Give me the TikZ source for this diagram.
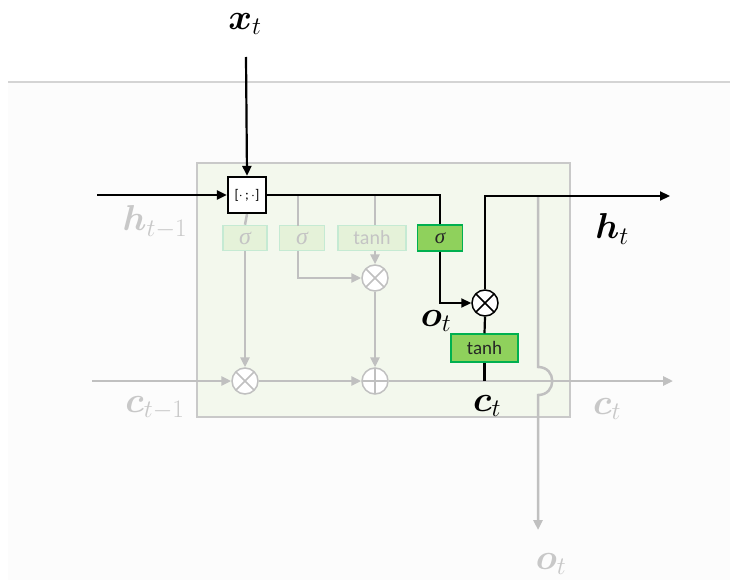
\RequirePackage{fix-cm}
\documentclass[tikz,border=0pt]{standalone}
\usepackage{amsmath}
\usepackage{bm}
\usepackage{fontspec}
\newfontfamily\calibri{Carlito}
\newfontfamily\grk{Liberation Serif}
\usetikzlibrary{arrows.meta,calc}
\definecolor{gline}{HTML}{C0C0C0}
\definecolor{glabel}{HTML}{C8C8C8}
\definecolor{fadefill}{HTML}{E5F2D9}
\definecolor{fadedraw}{HTML}{C5EAD3}
\definecolor{fadetext}{HTML}{C4C4C4}
\definecolor{gfill}{HTML}{8FD15C}
\definecolor{gdraw}{HTML}{00B050}
\definecolor{cellfill}{HTML}{F3F8ED}
\definecolor{celldraw}{HTML}{C9C9C9}
\definecolor{bgfill}{HTML}{FCFCFC}
\begin{document}
\begin{tikzpicture}[x=1pt,y=-1pt,
  blk/.style={line width=2.2pt,black},
  gry/.style={line width=2.5pt,gline},
  arr/.style={-{Triangle[length=10pt,width=9pt]}},
  fadebox/.style={rectangle,draw=fadedraw,fill=fadefill,line width=1.5pt,minimum height=25pt,inner sep=0pt,text=fadetext,font=\grk\itshape\fontsize{24}{26}\selectfont},
  greenbox/.style={rectangle,draw=gdraw,fill=gfill,line width=1.5pt,minimum height=26pt,inner sep=0pt,text=black!85,font=\grk\itshape\fontsize{21}{24}\selectfont},
  mulc/.style={circle,minimum size=26pt,inner sep=0pt,fill=white,line width=1.5pt,
    path picture={\draw[line width=1.5pt,#1] ($(path picture bounding box.north west)!0.15!(path picture bounding box.south east)$) -- ($(path picture bounding box.north west)!0.85!(path picture bounding box.south east)$);
      \draw[line width=1.5pt,#1] ($(path picture bounding box.north east)!0.15!(path picture bounding box.south west)$) -- ($(path picture bounding box.north east)!0.85!(path picture bounding box.south west)$);}},
  addc/.style={circle,minimum size=26pt,inner sep=0pt,fill=white,line width=1.5pt,
    path picture={\draw[line width=1.5pt,#1] (path picture bounding box.north) -- (path picture bounding box.south);
      \draw[line width=1.5pt,#1] (path picture bounding box.west) -- (path picture bounding box.east);}},
  biglab/.style={font=\fontsize{36}{40}\selectfont,inner sep=0pt},
]
\useasboundingbox (0,0) rectangle (730,580);
% background
\fill[white] (0,0) rectangle (730,580);
\fill[bgfill] (8,82) rectangle (730,580);
\draw[line width=1.3pt,celldraw!80] (8,82) -- (730,82);
% cell
\draw[fill=cellfill,draw=celldraw,line width=1.5pt] (197,163) rectangle (570,417);

% nodes
\node[draw=black,line width=2.2pt,fill=white,minimum width=38pt,minimum height=36pt,inner sep=0pt,font=\calibri\fontsize{14}{16}\selectfont] (cat) at (247,195) {[$\cdot$\,;\,$\cdot$]};
\node[fadebox,minimum width=44pt] (s1) at (245,238) {σ};
\node[fadebox,minimum width=45pt] (s2) at (302,238) {σ};
\node[fadebox,minimum width=68pt,font=\calibri\fontsize{20}{22}\selectfont] (th1) at (372,238) {tanh};
\node[greenbox,minimum width=45pt] (so) at (440,238) {σ};
\node[greenbox,minimum width=67pt,minimum height=28pt,font=\calibri\fontsize{19}{21}\selectfont] (th2) at (484.5,348) {tanh};

\node[mulc=gline,draw=gline] (m1) at (245,381) {};
\node[addc=gline,draw=gline] (ad) at (375,381) {};
\node[mulc=gline,draw=gline] (m2) at (375,278) {};
\node[mulc=black,draw=black] (mo) at (485,303) {};

% coordinates
\coordinate (hin) at (97,195);
\coordinate (xin) at (246,57);
\coordinate (cin) at (92,381);
\coordinate (cout) at (673,381);
\coordinate (hout) at (670,196);
\coordinate (ob) at (538,530);

% gray connectors
\draw[gry] (cat.south) -- (s1.north);
\draw[gry,arr] (s1.south) -- (m1.north);
\draw[gry] (298,196) -- (298,225.5);
\draw[gry,arr] (298,250.5) |- (m2.west);
\draw[gry] (375,196) -- (th1.north -| 375,0);
\draw[gry,arr] (th1.south -| m2.north) -- (m2.north);
\draw[gry,arr] (m2.south) -- (ad.north);
\draw[gry,arr] (cin) -- (m1.west);
\draw[gry,arr] (m1.east) -- (ad.west);
\draw[gry,arr] (ad.east) -- (cout);
\draw[gry,arr] (538,196) -- (538,367) .. controls (557,367) and (557,395) .. (538,395) -- (ob);

% black connectors
\draw[blk,arr] (hin) -- (cat.west);
\draw[blk,arr] (xin) -- (cat.north);
\draw[blk] (cat.east) -- (440,195) -- (so.north);
\draw[blk,arr] (so.south) |- (mo.west);
\draw[blk,arr] (mo.north) -- (485,196) -- (hout);
\draw[blk] (mo.south) -- (th2.north);
\draw[blk] (th2.south) -- (484.5,381);

% labels
\node[biglab] (lx) at (245,24) {$\bm{x}_t$};
\node[biglab,text=glabel] (lh1) at (155,222) {$\bm{h}_{t-1}$};
\node[biglab] (lh) at (612,229) {$\bm{h}_t$};
\node[biglab] (lo) at (436,321) {$\bm{o}_t$};
\node[biglab] (lc) at (487,406) {$\bm{c}_t$};
\node[biglab,text=glabel] (lc1) at (155,408) {$\bm{c}_{t-1}$};
\node[biglab,text=glabel] (lc2) at (607,409) {$\bm{c}_t$};
\node[biglab,text=glabel] (lo2) at (551,564) {$\bm{o}_t$};
\end{tikzpicture}
\end{document}
